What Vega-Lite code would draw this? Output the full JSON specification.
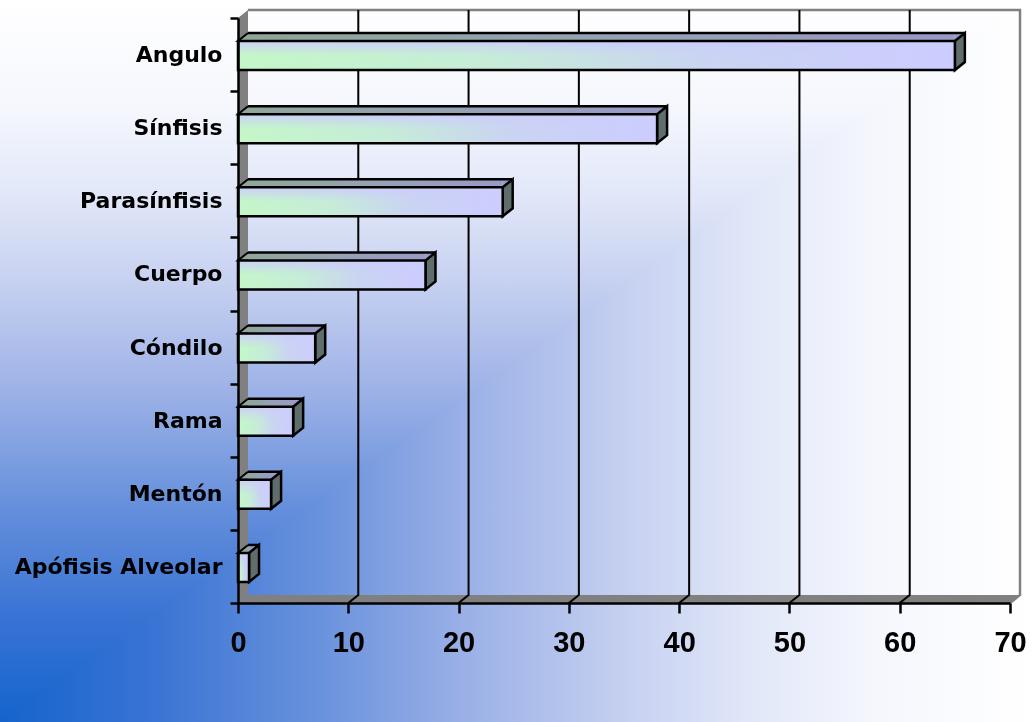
{
  "$schema": "https://vega.github.io/schema/vega-lite/v6.json",
  "width": 772,
  "height": 585,
  "autosize": {"type": "none"},
  "padding": {"left": 238, "top": 18, "right": 22, "bottom": 119},
  "background": "#ffffff",
  "datasets": {
    "bars": [
      {"cat": "Angulo", "value": 65},
      {"cat": "Sínfisis", "value": 38},
      {"cat": "Parasínfisis", "value": 24},
      {"cat": "Cuerpo\u00a0", "value": 17},
      {"cat": "Cóndilo", "value": 7},
      {"cat": "Rama", "value": 5},
      {"cat": "Mentón", "value": 3},
      {"cat": "Apófisis Alveolar", "value": 1}
    ],
    "ticks": [{"v": 10}, {"v": 20}, {"v": 30}, {"v": 40}, {"v": 50}, {"v": 60}],
    "frame": [{"v": 0}]
  },
  "config": {
    "view": {"stroke": null},
    "axis": {"zindex": 1}
  },
  "layer": [
    {
      "data": {"name": "frame"},
      "mark": {
        "type": "point", "size": 4, "filled": true, "strokeWidth": 0, "opacity": 1,
        "shape": "M-238,-566.44 L794,-566.44 L794,155.56 L-238,155.56 Z",
        "fill": {"gradient": "linear", "x1": 0, "y1": 0, "x2": 1, "y2": 0,
          "stops": [
            {"offset": 0, "color": "#1464cc"},
            {"offset": 0.15, "color": "#3a74d4"},
            {"offset": 0.3, "color": "#6690dc"},
            {"offset": 0.45, "color": "#9ab0e6"},
            {"offset": 0.6, "color": "#c4cff0"},
            {"offset": 0.72, "color": "#e0e6f8"},
            {"offset": 0.85, "color": "#f5f7fd"},
            {"offset": 1, "color": "#ffffff"}
          ]}
      },
      "encoding": {
        "x": {"field": "v", "type": "quantitative", "title": null},
        "y": {"datum": "Apófisis Alveolar", "type": "nominal", "title": null}
      }
    },
    {
      "data": {"name": "frame"},
      "mark": {
        "type": "point", "size": 4, "filled": true, "strokeWidth": 0, "opacity": 1,
        "blend": "lighten",
        "shape": "M-238,-566.44 L794,-566.44 L794,155.56 L-238,155.56 Z",
        "fill": {"gradient": "linear", "x1": 0, "y1": 1, "x2": 0, "y2": 0,
          "stops": [
            {"offset": 0, "color": "#1464cc"},
            {"offset": 0.15, "color": "#3a74d4"},
            {"offset": 0.3, "color": "#6690dc"},
            {"offset": 0.45, "color": "#9ab0e6"},
            {"offset": 0.6, "color": "#c4cff0"},
            {"offset": 0.72, "color": "#e0e6f8"},
            {"offset": 0.85, "color": "#f5f7fd"},
            {"offset": 1, "color": "#ffffff"}
          ]}
      },
      "encoding": {
        "x": {"field": "v", "type": "quantitative", "title": null},
        "y": {"datum": "Apófisis Alveolar", "type": "nominal", "title": null}
      }
    },
    {
      "data": {"name": "frame"},
      "mark": {"type": "point", "shape": "M0,36.56 L0,-548.44 L10,-556.44 L10,28.56 Z", "size": 4, "filled": true, "fill": "#808080", "strokeWidth": 0, "opacity": 1},
      "encoding": {
        "x": {"field": "v", "type": "quantitative", "title": null},
        "y": {"datum": "Apófisis Alveolar", "type": "nominal", "title": null}
      }
    },
    {
      "data": {"name": "frame"},
      "mark": {"type": "point", "shape": "M0,36.56 L772,36.56 L782,28.56 L10,28.56 Z", "size": 4, "filled": true, "fill": "#808080", "strokeWidth": 0, "opacity": 1},
      "encoding": {
        "x": {"field": "v", "type": "quantitative", "title": null},
        "y": {"datum": "Apófisis Alveolar", "type": "nominal", "title": null}
      }
    },
    {
      "data": {"name": "frame"},
      "mark": {"type": "point", "shape": "M772,36.56 L782,28.56 L782,-556.44 L10,-556.44", "size": 4, "filled": false, "stroke": "#808080", "strokeWidth": 2.5, "opacity": 1},
      "encoding": {
        "x": {"field": "v", "type": "quantitative", "title": null},
        "y": {"datum": "Apófisis Alveolar", "type": "nominal", "title": null}
      }
    },
    {
      "data": {"name": "ticks"},
      "mark": {"type": "point", "shape": "M0,36.56 L10,28.56 L10,-556.44", "size": 4, "filled": false, "stroke": "#000000", "strokeWidth": 2, "opacity": 1},
      "encoding": {
        "x": {"field": "v", "type": "quantitative", "title": null},
        "y": {"datum": "Apófisis Alveolar", "type": "nominal", "title": null}
      }
    },
    {
      "data": {"name": "bars"},
      "mark": {"type": "bar", "height": 8, "yOffset": -17.5, "x2Offset": 10,
        "fill": {"gradient": "linear", "x1": 0, "y1": 0, "x2": 1, "y2": 0,
          "stops": [
            {"offset": 0, "color": "#8fa69a"},
            {"offset": 0.5, "color": "#95a2b4"},
            {"offset": 1, "color": "#9a9ac6"}
          ]}
      },
      "encoding": {
        "x": {"field": "value", "type": "quantitative", "title": null},
        "x2": {"datum": 0},
        "y": {"field": "cat", "type": "nominal", "title": null}
      }
    },
    {
      "data": {"name": "bars"},
      "mark": {"type": "point", "shape": "M10,-13.5 L0,-13.5 L10,-21.5", "size": 4, "filled": true, "fill": "#8fa69a", "stroke": "#000000", "strokeWidth": 2, "opacity": 1},
      "encoding": {
        "x": {"datum": 0, "type": "quantitative", "title": null},
        "y": {"field": "cat", "type": "nominal", "title": null}
      }
    },
    {
      "data": {"name": "bars"},
      "mark": {"type": "point", "shape": "M0,-13.5 L0,-21.5 L10,-21.5 Z", "size": 4, "filled": true, "fill": "#9a9ac6", "strokeWidth": 0, "opacity": 1},
      "encoding": {
        "x": {"field": "value", "type": "quantitative", "title": null},
        "y": {"field": "cat", "type": "nominal", "title": null}
      }
    },
    {
      "data": {"name": "bars"},
      "mark": {"type": "rule", "color": "#000000", "strokeWidth": 2.5, "xOffset": 10, "x2Offset": 10, "yOffset": -21.5},
      "encoding": {
        "x": {"field": "value", "type": "quantitative", "title": null},
        "x2": {"datum": 0},
        "y": {"field": "cat", "type": "nominal", "title": null}
      }
    },
    {
      "data": {"name": "bars"},
      "mark": {"type": "point", "shape": "M0,-13.5 L10,-21.5 L10,7.5 L0,15.5 Z", "size": 4, "filled": true, "fill": "#5f6d6d", "stroke": "#000000", "strokeWidth": 2.5, "opacity": 1},
      "encoding": {
        "x": {"field": "value", "type": "quantitative", "title": null},
        "y": {"field": "cat", "type": "nominal", "title": null}
      }
    },
    {
      "data": {"name": "bars"},
      "mark": {"type": "bar", "height": 29, "yOffset": 1,
        "fill": {"gradient": "linear", "x1": 0, "y1": 0, "x2": 1, "y2": 0,
          "stops": [
            {"offset": 0, "color": "#c4f7c8"},
            {"offset": 0.35, "color": "#c6ecd8"},
            {"offset": 0.65, "color": "#cad4f2"},
            {"offset": 1, "color": "#ccccff"}
          ]}
      },
      "encoding": {
        "x": {
          "field": "value", "type": "quantitative", "title": null,
          "scale": {"domain": [0, 70], "nice": false, "zero": true},
          "axis": {
            "values": [0, 10, 20, 30, 40, 50, 60, 70],
            "grid": false,
            "domainColor": "#000000", "domainWidth": 2.5,
            "tickColor": "#000000", "tickWidth": 2.5, "tickSize": 10,
            "labelFont": "Liberation Sans", "labelFontWeight": "bold", "labelFontSize": 29,
            "labelColor": "#000000", "labelPadding": 15,
            "labelFlush": false, "labelOverlap": false, "zindex": 1
          }
        },
        "y": {
          "field": "cat", "type": "nominal", "title": null, "sort": null,
          "scale": {
            "domain": ["Angulo", "Sínfisis", "Parasínfisis", "Cuerpo\u00a0", "Cóndilo", "Rama", "Mentón", "Apófisis Alveolar"],
            "paddingInner": 0, "paddingOuter": 0
          },
          "axis": {
            "grid": false,
            "domainColor": "#000000", "domainWidth": 2.5,
            "tickColor": "#000000", "tickWidth": 2.5, "tickSize": 8, "tickBand": "extent",
            "labelFont": "DejaVu Sans", "labelFontWeight": "bold", "labelFontSize": 22,
            "labelColor": "#000000", "labelPadding": 8, "labelLimit": 400, "zindex": 1
          }
        }
      }
    },
    {
      "data": {"name": "bars"},
      "mark": {"type": "bar", "height": 29, "yOffset": 1, "stroke": "#000000", "strokeWidth": 2.5,
        "fill": {"gradient": "linear", "x1": 0, "y1": 0, "x2": 0, "y2": 1,
          "stops": [
            {"offset": 0, "color": "rgba(204,206,250,0.95)"},
            {"offset": 0.5, "color": "rgba(204,206,250,0)"},
            {"offset": 1, "color": "rgba(204,206,250,0)"}
          ]}
      },
      "encoding": {
        "x": {"field": "value", "type": "quantitative", "title": null},
        "y": {"field": "cat", "type": "nominal", "title": null}
      }
    }
  ]
}
